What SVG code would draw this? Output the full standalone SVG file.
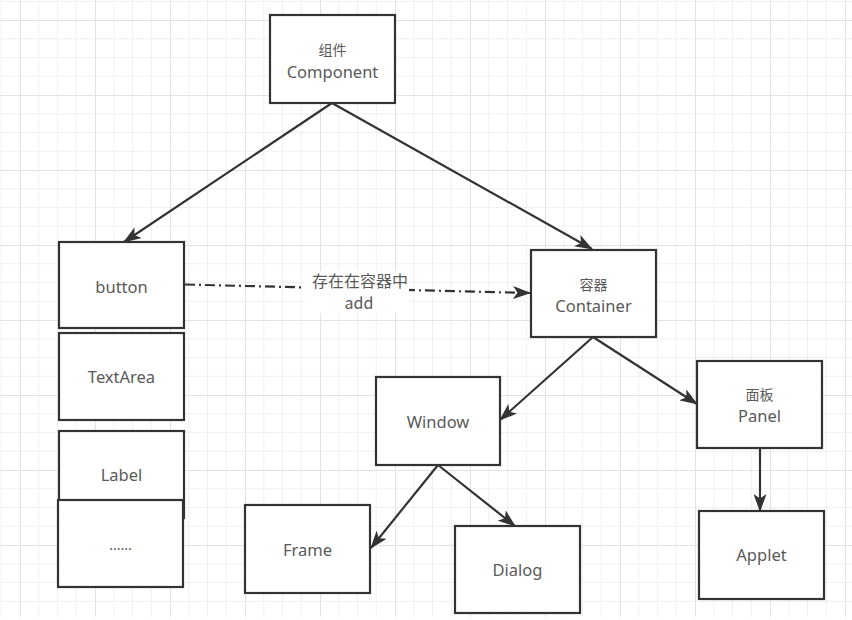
<svg xmlns="http://www.w3.org/2000/svg" width="852" height="620" viewBox="0 0 852 620">
  <defs>
    <pattern id="grid" x="20" y="20" width="75" height="75" patternUnits="userSpaceOnUse">
      <path d="M18.75,0 V75 M37.5,0 V75 M56.25,0 V75 M0,18.75 H75 M0,37.5 H75 M0,56.25 H75" stroke="#f0f0f0" stroke-width="1" fill="none"/>
      <path d="M0.5,0 V75 M0,0.5 H75" stroke="#e2e2e2" stroke-width="1" fill="none"/>
    </pattern>
    <marker id="arrow" markerUnits="userSpaceOnUse" markerWidth="18" markerHeight="13" refX="17" refY="6.5" orient="auto" viewBox="0 0 18 13">
      <path d="M0,0 L18,6.5 L0,13 L4.5,6.5 z" fill="#333"/>
    </marker>
  </defs>
  <style>
    .node rect { fill: #fff; stroke: #333; stroke-width: 2.2; }
    .lat { font-family: "Noto Sans", "Liberation Sans", "Noto Sans CJK SC", sans-serif; font-size: 16.5px; fill: #5a5a5a; text-anchor: middle; }
    .cjk { font-family: "Noto Sans CJK SC", "Noto Sans", sans-serif; font-size: 14px; fill: #5a5a5a; text-anchor: middle; }
    .edge { stroke: #333; stroke-width: 2.2; fill: none; marker-end: url(#arrow); }
    .dashdot { stroke-dasharray: 10 4 2 4; }
    .elbl { font-family: "Noto Sans CJK SC", "Noto Sans", sans-serif; font-size: 16px; fill: #5a5a5a; text-anchor: middle; }
  </style>
  <rect width="852" height="620" fill="#fff"/>
  <rect width="852" height="617" fill="url(#grid)"/>

  <g id="connectors">
    <line class="edge" x1="332" y1="103" x2="124" y2="242"/>
    <line class="edge" x1="332" y1="103" x2="592" y2="249"/>
    <line class="edge dashdot" x1="185" y1="284.5" x2="530" y2="293"/>
    <line class="edge" x1="593" y1="337" x2="500" y2="420"/>
    <line class="edge" x1="593" y1="337" x2="697" y2="404"/>
    <line class="edge" x1="438" y1="465" x2="371" y2="548"/>
    <line class="edge" x1="438" y1="465" x2="515" y2="526"/>
    <line class="edge" x1="760" y1="448" x2="760" y2="511"/>
    <g id="edge-label">
      <rect x="305" y="271" width="104" height="42" fill="#fff"/>
      <text class="elbl" x="360" y="287">存在在容器中</text>
      <text class="elbl" x="359" y="309">add</text>
    </g>
  </g>

  <g id="component" class="node">
    <rect x="270" y="15" width="125" height="88"/>
    <text class="cjk" x="332.5" y="55">组件</text>
    <text class="lat" x="332.5" y="77.5">Component</text>
  </g>
  <g id="button" class="node">
    <rect x="59" y="242" width="125" height="86"/>
    <text class="lat" x="121.5" y="292.5">button</text>
  </g>
  <g id="textarea" class="node">
    <rect x="59" y="333" width="125" height="87"/>
    <text class="lat" x="121.5" y="383">TextArea</text>
  </g>
  <g id="label" class="node">
    <rect x="59" y="431" width="125" height="87"/>
    <text class="lat" x="121.5" y="481">Label</text>
  </g>
  <g id="more" class="node">
    <rect x="58" y="500" width="125" height="87"/>
    <text class="lat" x="120.5" y="550" style="font-size:14px">......</text>
  </g>
  <g id="container" class="node">
    <rect x="531" y="250" width="125" height="87"/>
    <text class="cjk" x="593.5" y="290">容器</text>
    <text class="lat" x="593.5" y="311.5">Container</text>
  </g>
  <g id="window" class="node">
    <rect x="376" y="377" width="124" height="88"/>
    <text class="lat" x="438" y="428">Window</text>
  </g>
  <g id="panel" class="node">
    <rect x="697" y="361" width="125" height="87"/>
    <text class="cjk" x="759.5" y="400">面板</text>
    <text class="lat" x="759.5" y="421.5">Panel</text>
  </g>
  <g id="frame" class="node">
    <rect x="245" y="505" width="125" height="88"/>
    <text class="lat" x="307.5" y="556">Frame</text>
  </g>
  <g id="dialog" class="node">
    <rect x="455" y="526" width="125" height="87"/>
    <text class="lat" x="517.5" y="576">Dialog</text>
  </g>
  <g id="applet" class="node">
    <rect x="699" y="511" width="125" height="88"/>
    <text class="lat" x="761.5" y="561">Applet</text>
  </g>
</svg>
